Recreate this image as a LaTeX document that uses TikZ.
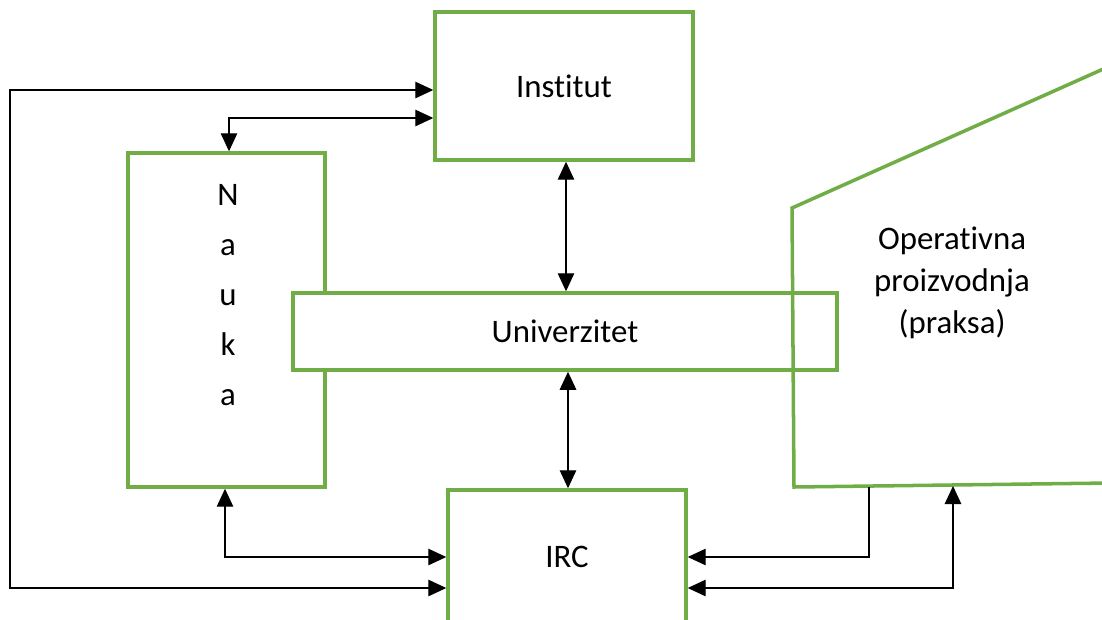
\documentclass[tikz,border=0pt]{standalone}
\usepackage{fontspec}
\setmainfont{Carlito}[Ligatures=NoCommon]
\usetikzlibrary{arrows.meta}
\definecolor{zelena}{RGB}{112,173,71}
\tikzset{
  blok/.style = {rectangle, draw=zelena, line width=2pt, align=center,
    inner sep=0pt, font=\fontsize{18.7}{24}\selectfont},% zeleni okvir
  tekst/.style = {align=center, inner sep=0pt, font=\fontsize{18.7}{24}\selectfont},
  vrh/.tip = {Triangle[length=3.6mm,width=3.3mm]},
  veza/.style = {vrh-vrh, black, line width=0.7pt},% obostrana veza
  vezal/.style = {-vrh, black, line width=0.7pt},% jednostrana veza
}
\begin{document}
\begin{tikzpicture}[x=0.02cm,y=-0.02cm]
  \clip (0,0) rectangle (1102,619);

  \node[blok, minimum width=5.16cm, minimum height=2.96cm] (inst) at (564,86) {Institut};
  \node[blok, minimum width=3.94cm, minimum height=6.68cm] (nauka) at (226.5,320) {};
  \node[tekst, anchor=north, font=\fontsize{18.7}{28.5}\selectfont] (naukat) at (228,184) {N\\a\\u\\k\\a};
  \node[blok, fill=white, minimum width=10.88cm, minimum height=1.54cm] (univ) at (565,331.5) {Univerzitet};
  \node[blok, minimum width=4.76cm, minimum height=2.68cm] (irc) at (567,557) {IRC};

  % operativna proizvodnja
  \draw[zelena, line width=2pt] (1110,66) -- (792,208) -- (794,487) -- (1110,483);
  \node[tekst] (oper) at (952,283) {Operativna\\proizvodnja\\(praksa)};
  \coordinate (op1) at (869,487);
  \coordinate (op2) at (953,486);

  % lijeva petlja
  \coordinate (l1) at (10,90);
  \coordinate (l2) at (10,588);
  \draw[veza] (inst.west |- l1) -- (l1) -- (l2) -- (irc.west |- l2);
  % nauka - institut
  \coordinate (n1) at (229,118);
  \draw[veza] (nauka.north -| n1) -- (n1) -- (inst.west |- n1);
  % nauka - irc
  \coordinate (n2) at (225,557);
  \draw[veza] (nauka.south -| n2) -- (n2) -- (irc.west |- n2);
  % univerzitet
  \draw[veza] (inst.south -| 566,0) -- (univ.north -| 566,0);
  \draw[veza] (univ.south -| 568,0) -- (irc.north -| 568,0);
  % praksa - irc
  \coordinate (p1) at (869,557);
  \draw[vezal] (op1) -- (p1) -- (irc.east |- p1);
  \coordinate (p2) at (953,588);
  \draw[veza] (op2) -- (p2) -- (irc.east |- p2);
\end{tikzpicture}
\end{document}
